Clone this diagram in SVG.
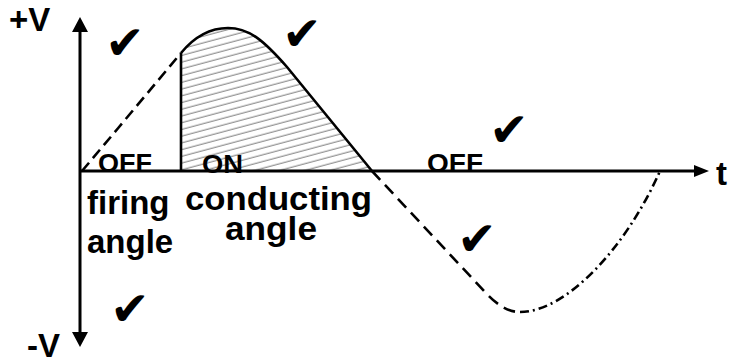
<svg xmlns="http://www.w3.org/2000/svg" width="730" height="364" viewBox="0 0 730 364">
<style>
.lbl{font-family:"Liberation Sans",Arial,sans-serif;font-weight:bold;fill:#000}
.big{font-size:33px}
.sm{font-size:25px}
.chk{font-family:"DejaVu Sans",sans-serif;font-size:47px;fill:#000;text-anchor:middle}
.ax{stroke:#000;stroke-width:3;fill:none}
.wave{stroke:#000;stroke-width:2.6;fill:none;stroke-linecap:butt}
</style>
<defs>
<pattern id="hatch" patternUnits="userSpaceOnUse" width="12" height="6.5" patternTransform="rotate(-15)">
<line x1="0" y1="3" x2="12" y2="3" stroke="#777" stroke-width="1"/>
</pattern>
</defs>
<rect width="730" height="364" fill="#fff"/>
<g id="hatch-area">
<path d="M181,171 L181,53 C195,36 210,28 228,28 C250,28 265,42 287,67 L372,171 Z" fill="url(#hatch)"/>
</g>
<g id="state-labels">
<text class="lbl sm" x="98" y="172" textLength="54" lengthAdjust="spacingAndGlyphs">OFF</text>
<text class="lbl sm" x="202" y="173" textLength="41" lengthAdjust="spacingAndGlyphs">ON</text>
<text class="lbl sm" x="427" y="172" textLength="56" lengthAdjust="spacingAndGlyphs">OFF</text>
</g>
<g id="connectors">
<path class="wave" d="M82,171 C115,132 150,90 181,53" stroke-dasharray="11 6"/>
<path class="wave" d="M181,53 C195,36 210,28 228,28 C250,28 265,42 287,67 L372,171"/>
<line class="wave" x1="181" y1="53" x2="181" y2="171"/>
<path class="wave" d="M372,171 L485,292 C497,305 508,312 520,312" stroke-dasharray="12 7"/>
<path class="wave" d="M520,312 C565,312 625,250 660,171" stroke-dasharray="9 4 2 4"/>
<line class="ax" x1="80" y1="30" x2="80" y2="334"/>
<polygon points="80,17 72,32 88,32" fill="#000"/>
<polygon points="80,347 72,332 88,332" fill="#000"/>
<line class="ax" x1="80" y1="171" x2="696" y2="171"/>
<polygon points="709,171 694,165 694,177" fill="#000"/>
</g>
<g id="axis-labels">
<text class="lbl big" x="9" y="31">+V</text>
<text class="lbl big" x="27" y="357">-V</text>
<text class="lbl big" x="716" y="185">t</text>
</g>
<g id="angle-labels">
<text class="lbl big" x="87" y="214">firing</text>
<text class="lbl big" x="87" y="253">angle</text>
<text class="lbl big" x="185" y="210" textLength="187" lengthAdjust="spacingAndGlyphs">conducting</text>
<text class="lbl big" x="225" y="240" textLength="92" lengthAdjust="spacingAndGlyphs">angle</text>
</g>
<g id="checks">
<text class="chk" x="125" y="59">✔</text>
<text class="chk" x="302" y="50">✔</text>
<text class="chk" x="509" y="146">✔</text>
<text class="chk" x="477" y="255">✔</text>
<text class="chk" x="130" y="325">✔</text>
</g>
</svg>
